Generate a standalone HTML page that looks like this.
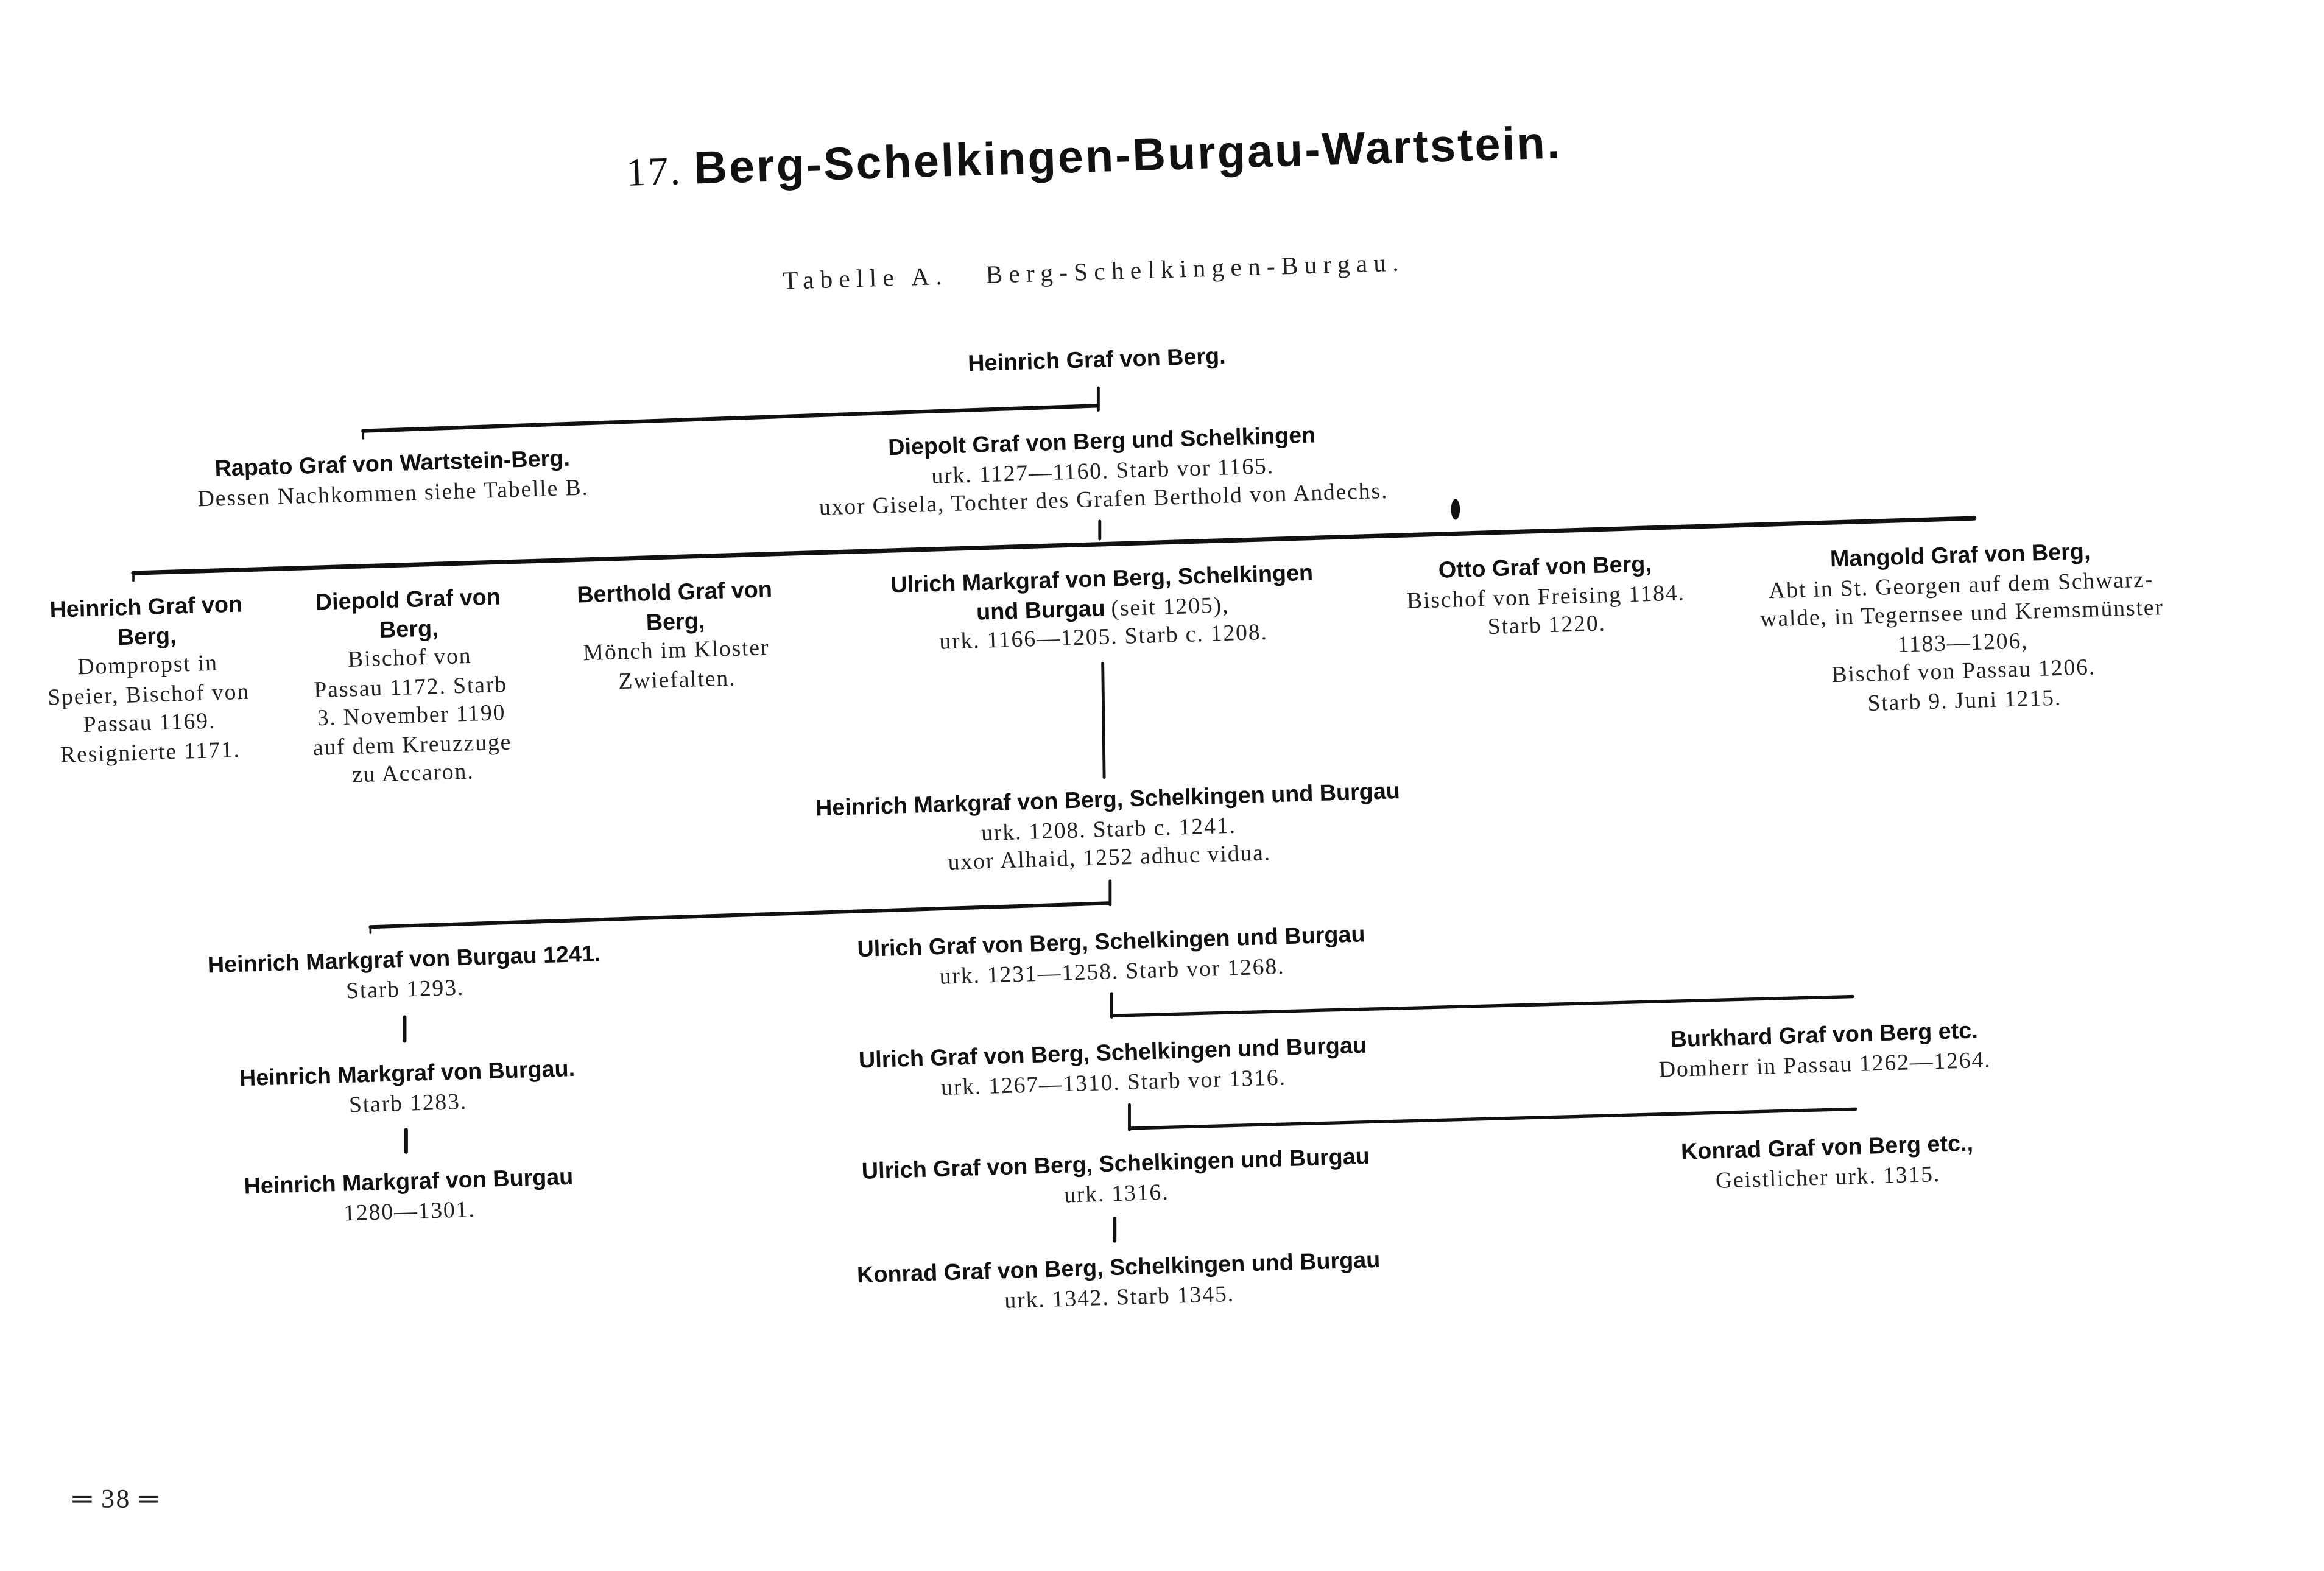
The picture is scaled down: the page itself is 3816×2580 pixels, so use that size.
<!DOCTYPE html>
<html><head><meta charset="utf-8"><style>
html,body{margin:0;padding:0;background:#fff;}
body{width:3816px;height:2580px;overflow:hidden;position:relative;}
#c{position:absolute;left:0;top:0;width:1568px;height:1061px;transform:scale(2.4337,2.4317);transform-origin:0 0;}
.t{position:absolute;white-space:nowrap;text-align:center;transform:translate(-50%,0) rotate(-1.7deg);color:#111;}
.b{font-family:"Liberation Sans Narrow","Liberation Sans",sans-serif;font-weight:bold;font-size:15.5px;letter-spacing:0;}
.s{font-family:"Liberation Serif",serif;font-size:15.5px;letter-spacing:0.75px;color:#222;}
.t div{height:19.5px;line-height:19.5px;}
svg{position:absolute;left:0;top:0;}
</style></head><body><div id="c">
<svg width="1568" height="1061" viewBox="0 0 1568 1061">
<g stroke="#111" fill="none" stroke-linecap="round">
<line x1="245" y1="291" x2="740" y2="274" stroke-width="2.6"/>
<line x1="245" y1="291" x2="245" y2="296" stroke-width="1.5"/>
<line x1="741" y1="262" x2="741" y2="277" stroke-width="2"/>
<line x1="90" y1="387" x2="1332" y2="350" stroke-width="3"/>
<line x1="90" y1="387" x2="90" y2="392" stroke-width="1.5"/>
<line x1="742" y1="352" x2="742" y2="364" stroke-width="2"/>
<line x1="744" y1="448" x2="745" y2="525" stroke-width="2"/>
<line x1="250" y1="626" x2="748" y2="610" stroke-width="2.5"/>
<line x1="250" y1="626" x2="250" y2="630" stroke-width="1.5"/>
<line x1="749" y1="595" x2="749" y2="611" stroke-width="2"/>
<line x1="750" y1="686" x2="1250" y2="673" stroke-width="2.2"/>
<line x1="750" y1="671" x2="750" y2="687" stroke-width="2"/>
<line x1="762" y1="762" x2="1252" y2="749" stroke-width="2.2"/>
<line x1="762" y1="746" x2="762" y2="763" stroke-width="2"/>
<line x1="273" y1="687" x2="273" y2="703" stroke-width="2.5"/>
<line x1="274" y1="763" x2="274" y2="778" stroke-width="2.5"/>
<line x1="752" y1="823" x2="752" y2="838" stroke-width="2.5"/>
</g>
<ellipse cx="982" cy="344" rx="3" ry="7" fill="#111"/>
</svg>

<div class="t" style="left:738px;top:88px;font-family:'Liberation Sans',sans-serif;font-weight:bold;font-size:31px;letter-spacing:1.3px;"><span style="font-family:'Liberation Serif',serif;font-weight:normal;font-size:27px">17. </span>Berg-Schelkingen-Burgau-Wartstein.</div>
<div class="t s" style="left:738px;top:174px;font-size:17px;letter-spacing:4.2px;">Tabelle A.&nbsp;&nbsp; Berg-Schelkingen-Burgau.</div>

<div class="t b" style="left:740px;top:234px;"><div>Heinrich Graf von Berg.</div></div>

<div class="t" style="left:265px;top:304px;"><div class="b">Rapato Graf von Wartstein-Berg.</div><div class="s">Dessen Nachkommen siehe Tabelle B.</div></div>
<div class="t" style="left:744px;top:289px;"><div class="b">Diepolt Graf von Berg und Schelkingen</div><div class="s">urk. 1127—1160. Starb vor 1165.</div><div class="s">uxor Gisela, Tochter des Grafen Berthold von Andechs.</div></div>

<div class="t" style="left:100px;top:401px;"><div class="b">Heinrich Graf von</div><div class="b">Berg,</div><div class="s">Dompropst in</div><div class="s">Speier, Bischof von</div><div class="s">Passau 1169.</div><div class="s">Resignierte 1171.</div></div>
<div class="t" style="left:277px;top:396px;"><div class="b">Diepold Graf von</div><div class="b">Berg,</div><div class="s">Bischof von</div><div class="s">Passau 1172. Starb</div><div class="s">3. November 1190</div><div class="s">auf dem Kreuzzuge</div><div class="s">zu Accaron.</div></div>
<div class="t" style="left:456px;top:391px;"><div class="b">Berthold Graf von</div><div class="b">Berg,</div><div class="s">Mönch im Kloster</div><div class="s">Zwiefalten.</div></div>
<div class="t" style="left:744px;top:382px;"><div class="b">Ulrich Markgraf von Berg, Schelkingen</div><div><span class="b">und Burgau</span> <span class="s">(seit 1205),</span></div><div class="s">urk. 1166—1205. Starb c. 1208.</div></div>
<div class="t" style="left:1043px;top:374px;"><div class="b">Otto Graf von Berg,</div><div class="s">Bischof von Freising 1184.</div><div class="s">Starb 1220.</div></div>
<div class="t" style="left:1324px;top:366px;"><div class="b">Mangold Graf von Berg,</div><div class="s">Abt in St. Georgen auf dem Schwarz-</div><div class="s">walde, in Tegernsee und Kremsmünster</div><div class="s">1183—1206,</div><div class="s">Bischof von Passau 1206.</div><div class="s">Starb 9. Juni 1215.</div></div>

<div class="t" style="left:748px;top:531px;"><div class="b">Heinrich Markgraf von Berg, Schelkingen und Burgau</div><div class="s">urk. 1208. Starb c. 1241.</div><div class="s">uxor Alhaid, 1252 adhuc vidua.</div></div>

<div class="t" style="left:273px;top:639px;"><div class="b">Heinrich Markgraf von Burgau 1241.</div><div class="s">Starb 1293.</div></div>
<div class="t" style="left:275px;top:716px;"><div class="b">Heinrich Markgraf von Burgau.</div><div class="s">Starb 1283.</div></div>
<div class="t" style="left:276px;top:789px;"><div class="b">Heinrich Markgraf von Burgau</div><div class="s">1280—1301.</div></div>

<div class="t" style="left:750px;top:627px;"><div class="b">Ulrich Graf von Berg, Schelkingen und Burgau</div><div class="s">urk. 1231—1258. Starb vor 1268.</div></div>
<div class="t" style="left:751px;top:702px;"><div class="b">Ulrich Graf von Berg, Schelkingen und Burgau</div><div class="s">urk. 1267—1310. Starb vor 1316.</div></div>
<div class="t" style="left:753px;top:777px;"><div class="b">Ulrich Graf von Berg, Schelkingen und Burgau</div><div class="s">urk. 1316.</div></div>
<div class="t" style="left:755px;top:847px;"><div class="b">Konrad Graf von Berg, Schelkingen und Burgau</div><div class="s">urk. 1342. Starb 1345.</div></div>

<div class="t" style="left:1231px;top:690px;"><div class="b">Burkhard Graf von Berg etc.</div><div class="s">Domherr in Passau 1262—1264.</div></div>
<div class="t" style="left:1233px;top:766px;"><div class="b">Konrad Graf von Berg etc.,</div><div class="s">Geistlicher urk. 1315.</div></div>

<div class="s" style="position:absolute;left:49px;top:1002px;font-size:18px;letter-spacing:1px;white-space:nowrap;">═&nbsp;38&nbsp;═</div>
</div></body></html>
